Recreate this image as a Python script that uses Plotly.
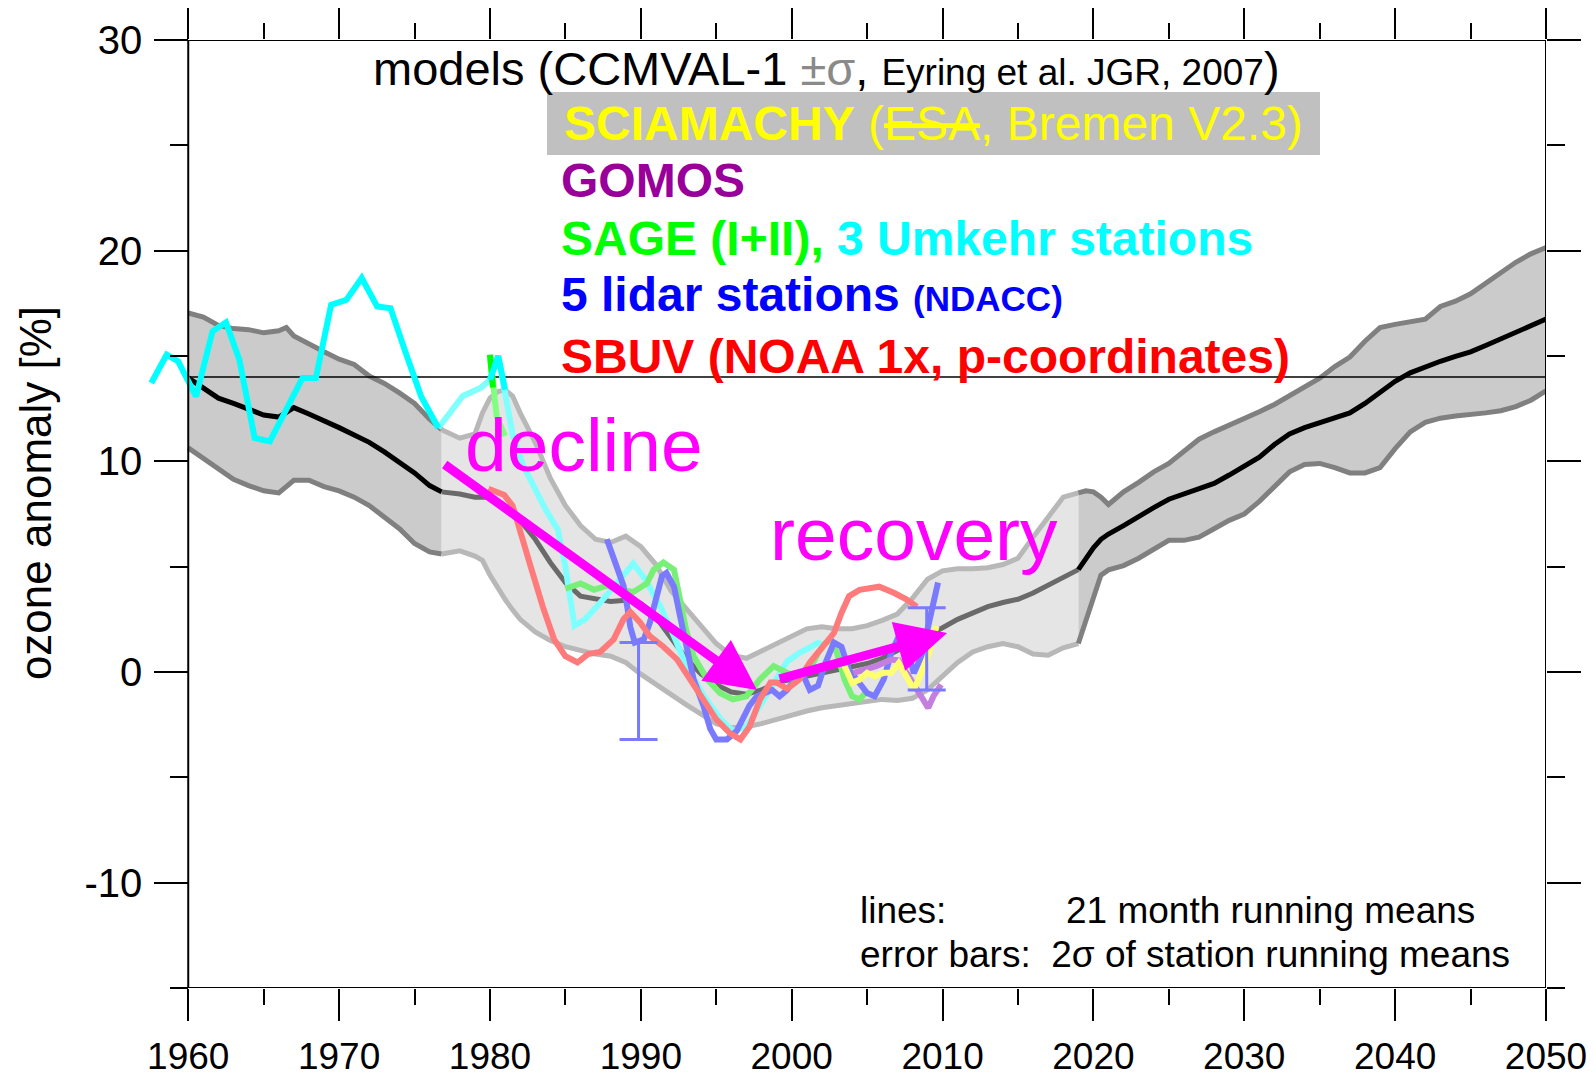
import plotly.graph_objects as go

# ------------------------------------------------------------------ data
# CCMVAL-1 model mean and +/- sigma envelope (ozone anomaly, %)
MODEL_YEAR = [
    1960, 1961, 1962, 1963, 1964, 1965, 1966, 1966.5, 1967, 1968,
    1969, 1970, 1971, 1972, 1973, 1974, 1975, 1976, 1976.8, 1978,
    1979, 1979.5, 1980, 1980.5, 1981, 1981.5, 1982, 1983, 1984, 1985,
    1986, 1987, 1988, 1989, 1990, 1991, 1992, 1993, 1994, 1995,
    1996, 1997, 1998, 1999, 2000, 2001, 2002, 2003, 2004, 2005,
    2006, 2007, 2008, 2009, 2010, 2011, 2012, 2013, 2014, 2015,
    2016, 2017, 2018, 2019, 2019.5, 2020, 2020.5, 2021, 2022, 2023,
    2024, 2025, 2026, 2027, 2028, 2029, 2030, 2031, 2032, 2033,
    2034, 2035, 2036, 2037, 2038, 2039, 2040, 2041, 2042, 2043,
    2044, 2045, 2046, 2047, 2048, 2049, 2050]
MODEL_MEAN = [
    13.96, 13.5, 13.0, 12.75, 12.45, 12.2, 12.1, 12.35, 12.55, 12.25,
    11.95, 11.6, 11.25, 10.9, 10.45, 9.95, 9.45, 8.85, 8.55, 8.45,
    8.3, 8.3, 8.3, 8.1, 7.85, 7.55, 7.2, 6.3, 5.2, 4.25,
    3.6, 3.45, 3.35, 3.4, 3.25, 2.6, 1.6, 0.65, -0.1, -0.6,
    -0.95, -1.05, -0.85, -0.5, -0.35, -0.2, -0.05, 0.1, 0.25, 0.4,
    0.65, 1.0, 1.35, 1.75, 2.1, 2.5, 2.8, 3.1, 3.3, 3.45,
    3.75, 4.1, 4.5, 4.86, 5.4, 5.9, 6.3, 6.55, 6.95, 7.4,
    7.8, 8.2, 8.45, 8.65, 8.95, 9.35, 9.75, 10.2, 10.8, 11.3,
    11.6, 11.85, 12.05, 12.3, 12.75, 13.25, 13.8, 14.2, 14.5, 14.75,
    14.98, 15.2, 15.5, 15.8, 16.1, 16.4, 16.75]
MODEL_UPPER = [
    17.04, 16.85, 16.45, 16.3, 16.25, 16.1, 16.2, 16.35, 15.95, 15.55,
    15.2, 14.85, 14.6, 14.05, 13.7, 13.25, 12.75, 12.0, 11.5, 11.1,
    11.3, 12.3, 13.0, 13.3, 13.4, 13.1, 12.3, 10.9, 9.2, 7.9,
    6.95, 6.3, 6.15, 6.45, 5.95, 5.1, 3.85, 3.0, 2.2, 1.35,
    0.8, 0.65, 1.0, 1.35, 1.7, 2.05, 2.15, 2.05, 2.05, 2.2,
    2.45, 2.75, 3.5, 4.4, 4.8, 4.9, 4.9, 4.95, 5.1, 5.4,
    6.4, 7.4, 8.3, 8.5, 8.6, 8.55, 8.3, 7.95, 8.55, 9.0,
    9.5, 9.9, 10.5, 11.05, 11.4, 11.7, 12.0, 12.35, 12.7, 13.1,
    13.5, 13.95, 14.5, 14.95, 15.7, 16.35, 16.5, 16.65, 16.75, 17.35,
    17.6, 17.95, 18.45, 18.9, 19.45, 19.85, 20.15]
MODEL_LOWER = [
    10.64, 10.15, 9.6, 9.15, 8.85, 8.6, 8.5, 8.8, 9.1, 9.1,
    8.8, 8.6, 8.3, 7.9, 7.35, 6.8, 6.1, 5.7, 5.6, 5.75,
    5.5, 5.3, 4.6, 4.0, 3.45, 2.95, 2.5, 1.9, 1.5, 1.2,
    1.0, 0.85, 0.75, 0.45, -0.1, -0.6, -1.05, -1.55, -2.0, -2.45,
    -2.65, -2.6, -2.45, -2.25, -2.0, -1.85, -1.7, -1.6, -1.5, -1.35,
    -1.3, -1.35, -1.25, -0.85, -0.2, 0.45, 0.95, 1.2, 1.35, 1.2,
    0.85, 0.8, 1.15, 1.35, 2.4, 3.6, 4.6, 4.85, 5.05, 5.4,
    5.8, 6.25, 6.25, 6.4, 6.8, 7.2, 7.5, 8.1, 8.8, 9.5,
    9.85, 9.9, 9.7, 9.45, 9.45, 9.7, 10.6, 11.4, 11.85, 12.05,
    12.15, 12.2, 12.3, 12.4, 12.6, 12.9, 13.35]

# 3 Umkehr stations (cyan)
UMKEHR_YEAR = [1957.55, 1958.57, 1959.33, 1960.52, 1961.61, 1962.5, 1963.39, 1964.4,
               1965.41, 1967.57, 1968.46, 1969.47, 1970.49, 1971.5, 1972.52, 1973.41,
               1974.42, 1975.44, 1976.58, 1978.2, 1979.4, 1980.0, 1980.55, 1981.0,
               1981.5, 1982.2, 1983.0, 1983.7, 1984.5, 1985.0, 1985.6, 1986.3, 1987.2,
               1988.0, 1988.7, 1989.5, 1990.3, 1991.3, 1992.2, 1993.0, 1994.2, 1995.3,
               1996.1, 1997.0, 1997.9, 1998.8, 1999.7, 2000.5, 2001.2, 2001.75, 2002.25]
UMKEHR_VAL = [13.72, 15.06, 14.75, 13.08, 16.17, 16.6, 14.82, 11.11,
              10.95, 13.95, 13.95, 17.43, 17.67, 18.7, 17.35, 17.27,
              15.14, 13.08, 11.58, 13.1, 13.5, 13.87, 15.0, 13.4,
              11.3, 9.8, 8.66, 7.7, 6.76, 5.0, 2.2, 2.5, 3.2,
              3.9, 4.5, 5.15, 4.4, 3.1, 1.7, 0.3, -1.15, -2.25,
              -2.8, -2.6, -1.6, -0.6, 0.5, 0.9, 1.2, 1.38, 1.22]

# SAGE I and SAGE II (green)
SAGE1_YEAR = [1980.0, 1980.2, 1980.45, 1981.0]
SAGE1_VAL = [15.06, 13.5, 12.1, 11.2]
SAGE2_YEAR = [1985.0, 1986.0, 1986.9, 1987.75, 1988.6, 1989.5, 1990.4, 1990.85, 1991.5,
              1992.2, 1992.6, 1993.0, 1993.5, 1994.4, 1995.25, 1996.1, 1997.0, 1997.9,
              1998.8, 1999.7, 2000.2, 2000.7, 2001.2, 2001.75, 2002.25, 2002.6, 2003.0,
              2003.5, 2004.0, 2004.5, 2005.0]
SAGE2_VAL = [3.95, 4.2, 3.9, 4.1, 3.9, 3.8, 4.2, 4.85, 5.2,
             4.85, 3.45, 2.0, 0.75, -0.35, -1.0, -1.3, -1.15, -0.35,
             0.28, -0.04, -0.36, -0.2, 0.12, 0.91, 1.38, 1.54, 0.91,
             -0.36, -1.15, -1.3, -0.9]

# SBUV (red)
SBUV_YEAR = [1979.9, 1980.95, 1981.5, 1982.0, 1982.7, 1983.5, 1984.25, 1985.0, 1985.8,
             1986.5, 1987.3, 1988.2, 1988.85, 1989.3, 1989.95, 1990.6, 1991.5, 1992.4,
             1993.3, 1994.15, 1995.0, 1995.9, 1996.6, 1997.2, 1997.9, 1998.6, 1999.0,
             1999.7, 2000.5, 2001.2, 2002.0, 2002.8, 2003.3, 2003.8, 2004.5, 2005.8,
             2006.8, 2007.6, 2008.3]
SBUV_VAL = [8.7, 8.4, 7.9, 6.6, 5.0, 3.1, 1.55, 0.75, 0.45,
            0.85, 0.95, 1.55, 2.5, 2.85, 2.35, 1.7, 1.2, 0.6,
            -0.35, -1.3, -2.25, -2.9, -3.2, -2.6, -1.3, -0.5, -0.5,
            -0.8, -0.35, 0.45, 1.2, 1.85, 2.8, 3.6, 3.9, 4.05,
            3.75, 3.45, 3.1]

# 5 lidar stations (blue) and their 2-sigma error bars
LIDAR_YEAR = [1987.75, 1988.2, 1988.85, 1989.1, 1989.3, 1989.6, 1990.2, 1990.6, 1991.06,
              1991.4, 1991.7, 1992.2, 1992.6, 1993.05, 1993.5, 1994.15, 1994.6, 1995.0,
              1995.7, 1996.35, 1996.7, 1997.2, 1997.7, 1998.2, 1998.7, 1999.2, 1999.7,
              2000.2, 2000.7, 2001.2, 2001.75, 2002.25, 2002.8, 2003.3, 2003.8, 2004.3,
              2005.0, 2005.5, 2006.1, 2006.6, 2007.1, 2007.6, 2008.1, 2008.6, 2009.1,
              2009.5, 2009.7]
LIDAR_VAL = [6.3, 5.35, 4.1, 3.1, 2.15, 1.4, 1.55, 2.35, 3.6,
             4.55, 4.7, 4.05, 2.65, 1.05, -0.35, -1.6, -2.7, -3.2,
             -3.2, -2.8, -2.25, -1.6, -1.15, -1.0, -0.85, -1.15, -0.85,
             -0.35, -0.05, -0.85, -0.65, 0.45, 1.4, 1.2, 0.1, -0.35,
             -1.0, -1.15, -0.35, 0.9, 1.7, 1.2, -0.05, 0.75, 2.5,
             3.9, 4.25]
LIDAR_ERR_YEAR = [1989.85, 2008.95]
LIDAR_ERR_MID = [-0.9, 1.1]
LIDAR_ERR_HALF = [2.3, 1.95]

# SCIAMACHY (yellow)
SCIA_YEAR = [2003.5, 2004.0, 2004.5, 2005.0, 2005.5, 2006.1, 2006.6, 2007.1, 2007.6,
             2008.1, 2008.6, 2009.1, 2009.6]
SCIA_VAL = [0.28, -0.51, -0.36, -0.04, -0.2, -0.04, -0.04, 0.43, -0.2,
            -0.83, -0.04, 0.91, 2.17]

# GOMOS (purple)
GOMOS_YEAR = [2004.1, 2005.0, 2005.6, 2006.6, 2007.1, 2007.9, 2008.7, 2009.05, 2009.4, 2009.9]
GOMOS_VAL = [-0.04, 0.12, 0.28, 0.59, 0.55, -0.36, -1.3, -1.7, -1.15, -0.6]

# axes / reference level
X_VIEW_START = 1957.2
X_AXIS_START, X_AXIS_END = 1960, 2050
Y_MIN, Y_MAX = -15, 30
REFERENCE_LEVEL = 14.0
X_TICKS = [1960, 1970, 1980, 1990, 2000, 2010, 2020, 2030, 2040, 2050]
X_TICK_LABELS = ["1960", "1970", "1980", "1990", "2000", "2010", "2020", "2030", "2040", "2050"]
X_MINOR_TICKS = [1965, 1975, 1985, 1995, 2005, 2015, 2025, 2035, 2045]
Y_TICKS = [-10, 0, 10, 20, 30]
Y_TICK_LABELS = ["-10", "0", "10", "20", "30"]
Y_MINOR_TICKS = [-15, -5, 5, 15, 25]

# ------------------------------------------------------------------ style
FONT = "Liberation Sans, Arial, Helvetica, sans-serif"
LIGHT_FROM, LIGHT_TO = 1976.8, 2019.0   # period highlighted (lighter band)
DARK_FILL, DARK_EDGE, DARK_MEAN = "#cbcbcb", "#808080", "#000000"
LIGHT_FILL, LIGHT_EDGE, LIGHT_MEAN = "#e5e5e5", "#b8b8b8", "#6a6a6a"
OBS_W = 6

fig = go.Figure()


def idx(lo, hi):
    return [i for i, yr in enumerate(MODEL_YEAR) if lo <= yr <= hi]


segments = [
    (idx(X_AXIS_START, LIGHT_FROM), DARK_FILL, DARK_EDGE, DARK_MEAN),
    (idx(LIGHT_FROM, LIGHT_TO), LIGHT_FILL, LIGHT_EDGE, LIGHT_MEAN),
    (idx(LIGHT_TO, X_AXIS_END), DARK_FILL, DARK_EDGE, DARK_MEAN),
]

# band fills
for ids, fill, edge, mean in segments:
    xs = [MODEL_YEAR[i] for i in ids]
    fig.add_trace(go.Scatter(x=xs, y=[MODEL_LOWER[i] for i in ids], mode="lines",
                             line=dict(width=0), hoverinfo="skip"))
    fig.add_trace(go.Scatter(x=xs, y=[MODEL_UPPER[i] for i in ids], mode="lines",
                             line=dict(width=0), fill="tonexty", fillcolor=fill,
                             hoverinfo="skip"))
# band edges and mean
for ids, fill, edge, mean in segments:
    xs = [MODEL_YEAR[i] for i in ids]
    for arr in (MODEL_UPPER, MODEL_LOWER):
        fig.add_trace(go.Scatter(x=xs, y=[arr[i] for i in ids], mode="lines",
                                 line=dict(color=edge, width=5)))
    fig.add_trace(go.Scatter(x=xs, y=[MODEL_MEAN[i] for i in ids], mode="lines",
                             line=dict(color=mean, width=5)))

# reference level
fig.add_trace(go.Scatter(x=[X_AXIS_START, X_AXIS_END], y=[REFERENCE_LEVEL, REFERENCE_LEVEL],
                         mode="lines", line=dict(color="black", width=1.6)))


def line(x, y, color, width=OBS_W, xaxis="x"):
    fig.add_trace(go.Scatter(x=x, y=y, mode="lines", xaxis=xaxis,
                             line=dict(color=color, width=width)))


# lidar error bars (drawn under the lidar line); on the right-hand y axis
fig.add_trace(go.Scatter(x=LIDAR_ERR_YEAR, y=LIDAR_ERR_MID, mode="markers", yaxis="y2",
                         marker=dict(size=1, color="rgba(0,0,0,0)"),
                         error_y=dict(type="data", array=LIDAR_ERR_HALF, color="#7a7aff",
                                      thickness=3, width=19)))

# observations
line(UMKEHR_YEAR[18:], UMKEHR_VAL[18:], "#80ffff")
line(SAGE1_YEAR, SAGE1_VAL, "#80ff80")
line(SAGE2_YEAR, SAGE2_VAL, "#78f078")
line(LIDAR_YEAR, LIDAR_VAL, "#7a7aff")
line(GOMOS_YEAR, GOMOS_VAL, "#c47ee0")
line(SCIA_YEAR, SCIA_VAL, "#ffff70")
line(SBUV_YEAR, SBUV_VAL, "#ff7a7a")
line(SAGE1_YEAR[:2], SAGE1_VAL[:2], "#00ff00")
line(UMKEHR_YEAR[21:24], UMKEHR_VAL[21:24], "#00ffff")
line(UMKEHR_YEAR[:19], UMKEHR_VAL[:19], "#00ffff", xaxis="x2")

# ------------------------------------------------------------------ annotations
ann = []


def text(x, y, s, size, color="black", anchor="left"):
    ann.append(dict(x=x, y=y, xref="x", yref="y", text=s, showarrow=False,
                    xanchor=anchor, yanchor="middle",
                    font=dict(family=FONT, size=size, color=color)))


text(1972.1, 28.65,
     'models (CCMVAL-1 <span style="color:#8a8a8a">±σ</span>, '
     '<span style="font-size:37px">Eyring et al. JGR, 2007</span>)', 47)
text(1984.8, 26.06,
     '<b>SCIAMACHY</b> (<span style="text-decoration:line-through">ESA</span>, Bremen V2.3)',
     48, "#ffff00")
text(1984.6, 23.35, "<b>GOMOS</b>", 48, "#990099")
text(1984.6, 20.6,
     '<b>SAGE (I+II), </b><b><span style="color:#00ffff">3 Umkehr stations</span></b>',
     48, "#00ff00")
text(1984.6, 17.94,
     '<b>5 lidar stations </b><b><span style="font-size:35px">(NDACC)</span></b>',
     48, "#0000ff")
text(1984.6, 15.0, "<b>SBUV (NOAA 1x, p-coordinates)</b>", 48, "#ff0000")
text(1978.21, 10.79, "decline", 75, "#ff00ff")
text(1998.43, 6.55, "recovery", 75, "#ff00ff")
text(2004.40, -11.3, "lines:", 37)
text(2018.05, -11.3, "21 month running means", 37)
text(2004.40, -13.39, "error bars:  2σ of station running means", 37)

for (tx, ty, hx, hy) in [(1976.9, 9.9, 1997.7, -0.85), (1999.1, -0.35, 2010.3, 1.85)]:
    ann.append(dict(x=hx, y=hy, ax=tx, ay=ty, xref="x", yref="y", axref="x", ayref="y",
                    text="", showarrow=True, arrowhead=2, arrowsize=1.12, arrowwidth=9,
                    arrowcolor="#ff00ff", standoff=0))

ann.append(dict(x=-0.0793, y=0.522, xref="paper", yref="paper", text="ozone anomaly [%]",
                textangle=-90, showarrow=False, xanchor="center", yanchor="middle",
                font=dict(family=FONT, size=44, color="black")))

shapes = [
    dict(type="rect", xref="x", yref="y", x0=1983.78, x1=2035.02, y0=24.54, y1=27.53,
         fillcolor="#c0c0c0", line=dict(width=0), layer="above"),
    dict(type="rect", xref="x", yref="y", x0=X_AXIS_START, x1=X_AXIS_END, y0=Y_MIN, y1=Y_MAX,
         fillcolor="rgba(0,0,0,0)", line=dict(color="black", width=2), layer="above"),
]

pos_left = (X_AXIS_START - X_VIEW_START) / (X_AXIS_END - X_VIEW_START)

xcommon = dict(range=[X_VIEW_START, X_AXIS_END], showgrid=False, zeroline=False, showline=False,
               tickmode="array", tickvals=X_TICKS, ticktext=X_TICK_LABELS,
               ticks="outside", ticklen=32, tickwidth=2, tickcolor="black",
               minor=dict(tickmode="array", tickvals=X_MINOR_TICKS, ticks="outside",
                          ticklen=16, tickwidth=2, tickcolor="black", showgrid=False),
               automargin=False, fixedrange=True)
ycommon = dict(range=[Y_MIN, Y_MAX], showgrid=False, zeroline=False, showline=False,
               tickmode="array", tickvals=Y_TICKS, ticktext=Y_TICK_LABELS,
               ticks="outside", ticklen=34, tickwidth=2, tickcolor="black",
               minor=dict(tickmode="array", tickvals=Y_MINOR_TICKS, ticks="outside",
                          ticklen=18, tickwidth=2, tickcolor="black", showgrid=False),
               automargin=False, fixedrange=True)

# the page body adds an 8px offset, so the figure is 8px smaller with 8px less margin
fig.update_layout(
    width=1588, height=1069,
    margin=dict(l=138, r=50, t=32, b=89, pad=0),
    paper_bgcolor="white", plot_bgcolor="white",
    showlegend=False,
    font=dict(family=FONT, color="black"),
    xaxis=dict(**xcommon, anchor="y", domain=[0, 1],
               tickfont=dict(family=FONT, size=37), ticklabelstandoff=4),
    xaxis2=dict(**xcommon, overlaying="x", side="top", anchor="y", showticklabels=False),
    yaxis=dict(**ycommon, anchor="free", position=pos_left, side="left",
               tickfont=dict(family=FONT, size=40), ticklabelstandoff=4),
    yaxis2=dict(**ycommon, overlaying="y", side="right", anchor="x", showticklabels=False),
    annotations=ann,
    shapes=shapes,
)

fig.write_html("out.html")
